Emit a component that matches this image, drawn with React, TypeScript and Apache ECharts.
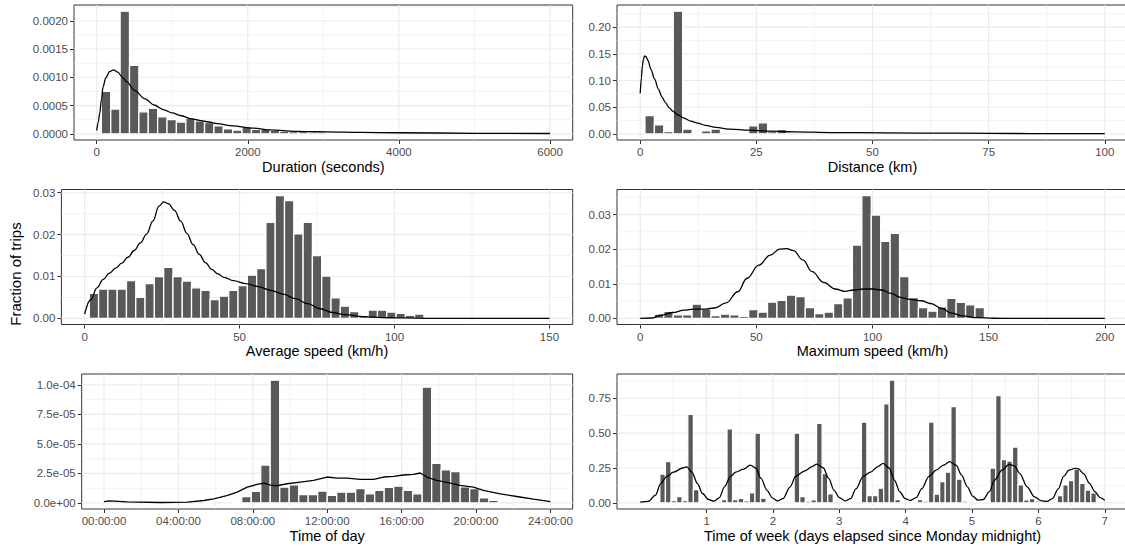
import React, { useEffect, useRef } from "react";
import * as echarts from "echarts";

const FONT = '"Liberation Sans", Arial, Helvetica, sans-serif';

// ---------- Duration (seconds) ----------
const durationBinWidth = 124.14;
const durationFirstBin = 1;
const durationValues = [
  0.00075, 0.00044, 0.00217, 0.00121, 0.00039, 0.00045, 0.0003, 0.00025, 0.00021, 0.00028,
  0.00023, 0.0002, 0.00014, 0.00009, 0.000065, 0.00012, 0.00008, 0.00008, 0.00006, 0.00005,
  0.00004, 0.00004, 0.00003, 0.00003, 0.00002, 0.00002, 0.00001, 0.00001, 0.00001,
];
const durationDensity = [
  [0, 0.00006], [20, 0.0002], [40, 0.00036], [65, 0.00062], [83, 0.00082], [120, 0.00099],
  [170, 0.0011], [224, 0.00113], [280, 0.00109], [340, 0.001], [400, 0.00092], [500, 0.00077],
  [640, 0.00062], [760, 0.00051], [880, 0.00043], [1000, 0.00037], [1120, 0.00032],
  [1240, 0.00027], [1360, 0.00024], [1480, 0.00021], [1600, 0.00018], [1800, 0.00014],
  [2080, 0.0001], [2300, 0.00007], [2560, 0.00005], [2800, 0.00004], [3040, 0.000035],
  [3500, 0.000025], [4000, 0.00002], [5000, 0.00001], [6000, 0.000006],
];
const durationXTicks = [0, 2000, 4000, 6000];
const durationXLabels = ["0", "2000", "4000", "6000"];
const durationYTicks = [0, 0.0005, 0.001, 0.0015, 0.002];
const durationYLabels = ["0.0000", "0.0005", "0.0010", "0.0015", "0.0020"];

// ---------- Distance (km) ----------
const distanceBinWidth = 2.031;
const distanceFirstBin = 0;
const distanceValues = [
  0, 0.034, 0.0169, 0.0044, 0.23, 0.0087, 0.0012, 0.0056, 0.0089, 0, 0, 0.0025, 0.015,
  0.0206, 0.0044, 0.0081, 0, 0, 0, 0, 0, 0, 0, 0, 0, 0, 0.003,
];
const distanceDensity = [
  [0, 0.076], [0.25, 0.105], [0.46, 0.1275], [0.7, 0.14], [0.93, 0.146], [1.24, 0.145],
  [1.7, 0.137], [2.3, 0.121], [3.1, 0.1025], [3.9, 0.084], [4.7, 0.069], [5.4, 0.059],
  [6.2, 0.049], [7, 0.0425], [8.2, 0.035], [9.3, 0.03], [10.9, 0.024], [12.4, 0.02],
  [14, 0.016], [16.3, 0.012], [19.4, 0.0088], [23.3, 0.0069], [27.9, 0.005], [33.4, 0.0038],
  [41.1, 0.0025], [52.8, 0.0019], [68.3, 0.0012], [83.8, 0.0006], [100, 0.0003],
];
const distanceXTicks = [0, 25, 50, 75, 100];
const distanceXLabels = ["0", "25", "50", "75", "100"];
const distanceYTicks = [0, 0.05, 0.1, 0.15, 0.2];
const distanceYLabels = ["0.00", "0.05", "0.10", "0.15", "0.20"];

// ---------- Average speed (km/h) ----------
const avgSpeedBinWidth = 3;
const avgSpeedFirstBin = 1;
const avgSpeedValues = [
  0.006, 0.007, 0.007, 0.007, 0.009, 0.005, 0.0083, 0.01, 0.0122, 0.01, 0.0089, 0.0073,
  0.0067, 0.0045, 0.0053, 0.0067, 0.0078, 0.0103, 0.0119, 0.0229, 0.0293, 0.0281, 0.0202,
  0.0229, 0.015, 0.0101, 0.0049, 0.0029, 0.0016, 0.0007, 0.002, 0.002, 0.0015, 0.0012,
  0.0007, 0.001,
];
const avgSpeedDensity = [
  [0, 0.001], [2, 0.0045], [4, 0.0073], [6, 0.0093], [8, 0.0108], [10, 0.012], [12, 0.0132],
  [14, 0.0146], [16, 0.0162], [18, 0.018], [20, 0.0201], [22, 0.0232], [24, 0.0268],
  [25.5, 0.0278], [27, 0.0274], [29, 0.0258], [31, 0.0232], [33, 0.0203], [35, 0.0176],
  [37, 0.0153], [39, 0.0133], [41, 0.0117], [43, 0.0106], [45, 0.0098], [48, 0.009],
  [52, 0.0083], [56, 0.0076], [60, 0.0067], [64, 0.0058], [68, 0.0047], [72, 0.0035],
  [76, 0.0023], [80, 0.0014], [84, 0.0009], [90, 0.0004], [96, 0.0002], [102, 0.0001],
  [112, 0.00002], [125, 0], [150, 0],
];
const avgSpeedXTicks = [0, 50, 100, 150];
const avgSpeedXLabels = ["0", "50", "100", "150"];
const avgSpeedYTicks = [0, 0.01, 0.02, 0.03];
const avgSpeedYLabels = ["0.00", "0.01", "0.02", "0.03"];

// ---------- Maximum speed (km/h) ----------
const maxSpeedBinWidth = 4.06;
const maxSpeedFirstBin = 2;
const maxSpeedValues = [
  0.0012, 0.002, 0.001, 0.001, 0.0041, 0.0026, 0.0008, 0.0012, 0.001, 0.0006, 0.0025,
  0.0018, 0.0047, 0.0052, 0.0067, 0.0063, 0.0031, 0.0014, 0.0018, 0.0043, 0.0059, 0.0212,
  0.0355, 0.0299, 0.0223, 0.0246, 0.0121, 0.006, 0.0031, 0.0021, 0.0033, 0.0058, 0.0046,
  0.0039, 0.0031,
];
const maxSpeedDensity = [
  [0, 0], [5, 0.0001], [9, 0.0009], [14, 0.0017], [19, 0.0024], [23, 0.0027], [28, 0.0027],
  [32, 0.003], [37, 0.0045], [42, 0.0077], [46, 0.0116], [51, 0.0154], [56, 0.0183],
  [60, 0.02], [63, 0.0202], [66, 0.0196], [70, 0.0169], [74, 0.0135], [79, 0.0104],
  [84, 0.0085], [88, 0.0078], [92, 0.0082], [96, 0.0085], [100, 0.0085], [104, 0.0082],
  [108, 0.0072], [112, 0.0061], [116, 0.0055], [121, 0.0051], [125, 0.0043], [130, 0.0028],
  [134, 0.0015], [139, 0.0007], [145, 0.0002], [152, 0.00003], [160, 0], [200, 0],
];
const maxSpeedXTicks = [0, 50, 100, 150, 200];
const maxSpeedXLabels = ["0", "50", "100", "150", "200"];
const maxSpeedYTicks = [0, 0.01, 0.02, 0.03];
const maxSpeedYLabels = ["0.00", "0.01", "0.02", "0.03"];

// ---------- Time of day (hours) ----------
const dayBinWidth = 24 / 47;
const dayFirstBin = 11;
const dayValues = [
  4e-7, 0, 0, 5e-7, 5.4e-6, 9.8e-6, 3.2e-5, 1.04e-4, 1.34e-5, 1.52e-5, 7.1e-6, 7.1e-6,
  1.0e-5, 6.3e-6, 9.1e-6, 9.1e-6, 1.21e-5, 7.7e-6, 1.05e-5, 1.32e-5, 1.41e-5, 1.05e-5,
  7.7e-6, 9.8e-5, 3.35e-5, 2.8e-5, 2.65e-5, 1.36e-5, 1.21e-5, 4.2e-6, 2.2e-6,
];
const dayDensity = [
  [0, 1.1e-6], [0.27, 1.7e-6], [1.26, 0.9e-6], [3.05, 0.3e-6], [4.48, 0.6e-6], [5.37, 2e-6],
  [5.9, 3.4e-6], [6.6, 6.2e-6], [7.16, 9.1e-6], [7.7, 1.34e-5], [8.23, 1.56e-5],
  [8.62, 1.68e-5], [8.95, 1.5e-5], [9.3, 1.45e-5], [9.84, 1.62e-5], [10.56, 1.76e-5],
  [11.27, 1.9e-5], [11.99, 2.19e-5], [12.53, 2.1e-5], [13.06, 2.1e-5], [13.78, 1.99e-5],
  [14.5, 1.99e-5], [15.03, 2.19e-5], [15.57, 2.24e-5], [16.1, 2.36e-5], [16.64, 2.41e-5],
  [17.0, 2.53e-5], [17.36, 2.19e-5], [17.89, 1.9e-5], [18.43, 1.73e-5], [19.15, 1.48e-5],
  [19.86, 1.34e-5], [20.4, 1.05e-5], [21.3, 7.7e-6], [22.19, 5.4e-6], [23.09, 3.1e-6],
  [24, 1.1e-6],
];
const dayXTicks = [0, 4, 8, 12, 16, 20, 24];
const dayXLabels = ["00:00:00", "04:00:00", "08:00:00", "12:00:00", "16:00:00", "20:00:00", "24:00:00"];
const dayYTicks = [0, 2.5e-5, 5e-5, 7.5e-5, 1e-4];
const dayYLabels = ["0.0e+00", "2.5e-05", "5.0e-05", "7.5e-05", "1.0e-04"];

// ---------- Time of week (days) ----------
const weekBinWidth = 7 / 83;
const weekFirstBin = 4;
const weekValues = [
  0.206, 0.295, 0.017, 0.045, 0.017, 0.635, 0.096, 0, 0, 0, 0,
  0.024, 0.53, 0.024, 0.033, 0.014, 0.072, 0.5, 0.034, 0, 0, 0, 0, 0,
  0.5, 0.045, 0.012, 0.022, 0.57, 0.21, 0.065, 0, 0, 0, 0, 0,
  0.58, 0.052, 0.052, 0.105, 0.71, 0.88, 0.024, 0, 0, 0,
  0.024, 0.012, 0.58, 0.062, 0.153, 0.22, 0.69, 0.17, 0.012, 0, 0, 0, 0,
  0.25, 0.77, 0.31, 0.3, 0.4, 0.13, 0.022, 0.03, 0.012, 0, 0, 0,
  0.052, 0.13, 0.16, 0.24, 0.14, 0.092, 0.072,
];
const weekDensity = [
  [0, 0.005], [0.12, 0.01], [0.23, 0.055], [0.31, 0.14], [0.4, 0.19], [0.5, 0.22],
  [0.64, 0.25], [0.7, 0.258], [0.78, 0.22], [0.86, 0.14], [0.94, 0.067], [1.03, 0.024],
  [1.11, 0.012], [1.19, 0.036], [1.27, 0.115], [1.36, 0.19], [1.44, 0.22], [1.55, 0.24],
  [1.66, 0.27], [1.74, 0.25], [1.82, 0.175], [1.91, 0.09], [1.99, 0.036], [2.07, 0.014],
  [2.15, 0.03], [2.26, 0.115], [2.34, 0.19], [2.48, 0.23], [2.59, 0.26], [2.66, 0.278],
  [2.76, 0.25], [2.84, 0.175], [2.92, 0.09], [3.0, 0.038], [3.09, 0.014], [3.17, 0.03],
  [3.25, 0.1], [3.36, 0.19], [3.47, 0.22], [3.58, 0.26], [3.66, 0.283], [3.75, 0.25],
  [3.83, 0.163], [3.91, 0.08], [3.99, 0.031], [4.07, 0.017], [4.16, 0.038], [4.24, 0.1],
  [4.35, 0.19], [4.46, 0.235], [4.57, 0.27], [4.66, 0.295], [4.76, 0.27], [4.84, 0.2],
  [4.93, 0.115], [5.01, 0.048], [5.09, 0.019], [5.17, 0.024], [5.26, 0.08], [5.34, 0.163],
  [5.45, 0.235], [5.56, 0.276], [5.64, 0.264], [5.72, 0.21], [5.83, 0.115], [5.94, 0.043],
  [6.05, 0.014], [6.13, 0.01], [6.21, 0.031], [6.3, 0.1], [6.38, 0.19], [6.46, 0.235],
  [6.55, 0.247], [6.6, 0.245], [6.68, 0.21], [6.77, 0.14], [6.85, 0.08], [6.93, 0.038],
  [7.0, 0.019],
];
const weekXTicks = [1, 2, 3, 4, 5, 6, 7];
const weekXLabels = ["1", "2", "3", "4", "5", "6", "7"];
const weekYTicks = [0, 0.25, 0.5, 0.75];
const weekYLabels = ["0.00", "0.25", "0.50", "0.75"];

const panels = [
  { title: "Duration (seconds)", xDomain: [0, 6000], binWidth: durationBinWidth, firstBin: durationFirstBin, values: durationValues, density: durationDensity, xTicks: durationXTicks, xLabels: durationXLabels, yTicks: durationYTicks, yLabels: durationYLabels, smooth: 0.3 },
  { title: "Distance (km)", xDomain: [0, 100], binWidth: distanceBinWidth, firstBin: distanceFirstBin, values: distanceValues, density: distanceDensity, xTicks: distanceXTicks, xLabels: distanceXLabels, yTicks: distanceYTicks, yLabels: distanceYLabels, smooth: 0.3 },
  { title: "Average speed (km/h)", xDomain: [0, 150], binWidth: avgSpeedBinWidth, firstBin: avgSpeedFirstBin, values: avgSpeedValues, density: avgSpeedDensity, xTicks: avgSpeedXTicks, xLabels: avgSpeedXLabels, yTicks: avgSpeedYTicks, yLabels: avgSpeedYLabels, smooth: 0.4 },
  { title: "Maximum speed (km/h)", xDomain: [0, 200], binWidth: maxSpeedBinWidth, firstBin: maxSpeedFirstBin, values: maxSpeedValues, density: maxSpeedDensity, xTicks: maxSpeedXTicks, xLabels: maxSpeedXLabels, yTicks: maxSpeedYTicks, yLabels: maxSpeedYLabels, smooth: 0.4 },
  { title: "Time of day", xDomain: [0, 24], binWidth: dayBinWidth, firstBin: dayFirstBin, values: dayValues, density: dayDensity, xTicks: dayXTicks, xLabels: dayXLabels, yTicks: dayYTicks, yLabels: dayYLabels, smooth: false },
  { title: "Time of week (days elapsed since Monday midnight)", xDomain: [0, 7], binWidth: weekBinWidth, firstBin: weekFirstBin, values: weekValues, density: weekDensity, xTicks: weekXTicks, xLabels: weekXLabels, yTicks: weekYTicks, yLabels: weekYLabels, smooth: 0.3 },
];

// panel boxes (layout)
const layouts = [
  { left: 74, top: 5, width: 498.7, height: 135 },
  { left: 617, top: 5, width: 511, height: 135 },
  { left: 61.4, top: 189.5, width: 511.3, height: 135 },
  { left: 617, top: 189.5, width: 511, height: 135 },
  { left: 81.7, top: 374, width: 491, height: 135 },
  { left: 617, top: 374, width: 511, height: 135 },
];

function minorBreaks(ticks: number[], lo: number, hi: number) {
  const out: number[] = [];
  const step = ticks[1] - ticks[0];
  const ext = [ticks[0] - step, ...ticks, ticks[ticks.length - 1] + step];
  for (let i = 0; i < ext.length - 1; i++) {
    const m = (ext[i] + ext[i + 1]) / 2;
    if (m >= lo && m <= hi) out.push(m);
  }
  return out;
}

function labelFor(ticks: number[], labels: string[], v: number) {
  let best = 0;
  let bd = Infinity;
  ticks.forEach((t, i) => {
    const d = Math.abs(t - v);
    if (d < bd) { bd = d; best = i; }
  });
  return labels[best];
}

function buildOption() {
  const grid: any[] = [];
  const xAxis: any[] = [];
  const yAxis: any[] = [];
  const series: any[] = [];

  panels.forEach((p, i) => {
    const L = layouts[i];
    grid.push({
      left: L.left, top: L.top, width: L.width, height: L.height,
      show: true, borderColor: "#333333", borderWidth: 1, backgroundColor: "#FFFFFF",
      containLabel: false, outerBoundsMode: "none",
    });
    const [d0, d1] = p.xDomain;
    const xs = d1 - d0;
    const xMin = d0 - 0.05 * xs;
    const xMax = d1 + 0.05 * xs;
    const yTop = Math.max(...p.values, ...p.density.map((d) => d[1]));
    const yMin = -0.05 * yTop;
    const yMax = yTop * 1.05;

    const tickStyle = { show: true, length: 4, lineStyle: { color: "#333333", width: 1 } };
    const labStyle = { color: "#4D4D4D", fontSize: 11.5, fontFamily: FONT, margin: 6, hideOverlap: false, showMinLabel: true, showMaxLabel: true };

    xAxis.push({
      type: "value", gridIndex: i, min: xMin, max: xMax, position: "bottom",
      axisLine: { show: false, onZero: false },
      splitLine: { show: false },
      axisTick: { ...tickStyle, customValues: p.xTicks },
      axisLabel: { ...labStyle, customValues: p.xTicks, formatter: (v: number) => labelFor(p.xTicks, p.xLabels, v) },
      name: p.title, nameLocation: "middle", nameGap: 19, nameMoveOverlap: false,
      nameTextStyle: { fontSize: 14.5, color: "#000000", fontFamily: FONT },
    });
    yAxis.push({
      type: "value", gridIndex: i, min: yMin, max: yMax, position: "left",
      axisLine: { show: false, onZero: false },
      splitLine: { show: false },
      axisTick: { ...tickStyle, customValues: p.yTicks },
      axisLabel: { ...labStyle, customValues: p.yTicks, formatter: (v: number) => labelFor(p.yTicks, p.yLabels, v) },
    });

    const gl: number[][] = [];
    p.xTicks.forEach((v) => gl.push([v, 0, 0]));
    minorBreaks(p.xTicks, xMin, xMax).forEach((v) => gl.push([v, 0, 1]));
    p.yTicks.forEach((v) => gl.push([v, 1, 0]));
    minorBreaks(p.yTicks, yMin, yMax).forEach((v) => gl.push([v, 1, 1]));

    series.push({
      type: "custom", xAxisIndex: i, yAxisIndex: i, z: 1, silent: true,
      data: gl, encode: { x: 0, y: -1 },
      renderItem: (params: any, api: any) => {
        const v = api.value(0);
        const dir = api.value(1);
        const minor = api.value(2);
        const cs = params.coordSys;
        const style = { stroke: "#EBEBEB", lineWidth: minor ? 0.6 : 1.1 };
        if (dir === 0) {
          const x = api.coord([v, 0])[0];
          return { type: "line", shape: { x1: x, y1: cs.y, x2: x, y2: cs.y + cs.height }, style };
        }
        const y = api.coord([(xMin + xMax) / 2, v])[1];
        return { type: "line", shape: { x1: cs.x, y1: y, x2: cs.x + cs.width, y2: y }, style };
      },
    });

    const bars = p.values
      .map((v, j) => {
        const c = (p.firstBin + j) * p.binWidth;
        return [c - p.binWidth / 2, c + p.binWidth / 2, v];
      })
      .filter((d) => d[2] > 0);

    series.push({
      type: "custom", xAxisIndex: i, yAxisIndex: i, z: 2, silent: true,
      data: bars, encode: { x: [0, 1], y: 2 },
      renderItem: (params: any, api: any) => {
        const a = api.coord([api.value(0), api.value(2)]);
        const b = api.coord([api.value(1), 0]);
        return {
          type: "rect",
          shape: { x: a[0], y: a[1], width: b[0] - a[0], height: b[1] - a[1] },
          style: { fill: "#595959", stroke: "#FFFFFF", lineWidth: 1.3 },
        };
      },
    });

    series.push({
      type: "line", xAxisIndex: i, yAxisIndex: i, z: 3, silent: true,
      data: p.density, showSymbol: false, symbol: "none",
      smooth: p.smooth, smoothMonotone: "x",
      lineStyle: { color: "#000000", width: 1.3 },
    });
  });

  return {
    animation: false,
    backgroundColor: "#FFFFFF",
    textStyle: { fontFamily: FONT },
    grid, xAxis, yAxis, series,
    graphic: {
      elements: [
        {
          type: "text", x: 15, y: 274, rotation: Math.PI / 2,
          style: {
            text: "Fraction of trips", fontSize: 15, fontFamily: FONT, fill: "#000000",
            align: "center", verticalAlign: "middle", textAlign: "center", textVerticalAlign: "middle",
          },
        },
      ],
    },
  };
}

export default function App() {
  const ref = useRef<HTMLDivElement>(null);
  useEffect(() => {
    if (!ref.current) return;
    const chart = echarts.init(ref.current, undefined, { renderer: "svg" });
    chart.setOption(buildOption() as any);
    return () => chart.dispose();
  }, []);
  return (
    <div
      ref={ref}
      style={{ position: "absolute", left: 0, top: 0, width: 1125, height: 548, background: "#fff" }}
    />
  );
}
